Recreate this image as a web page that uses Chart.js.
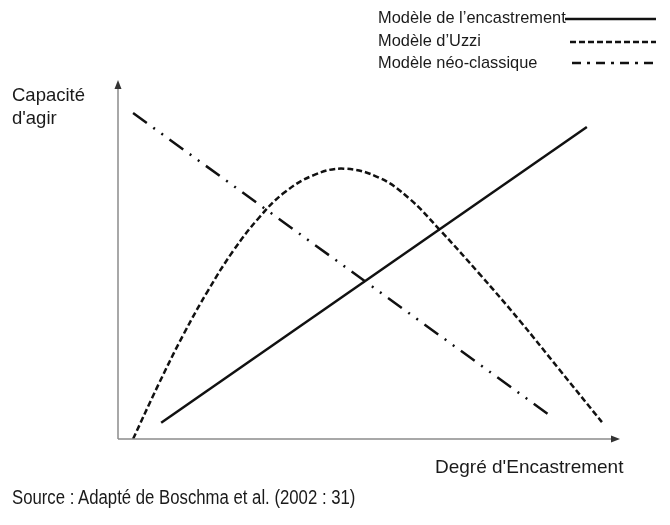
<!DOCTYPE html>
<html>
<head>
<meta charset="utf-8">
<script src="https://cdn.jsdelivr.net/npm/chart.js@4.4.0/dist/chart.umd.min.js"></script>
<style>
  body { margin: 0; background: #fff; }
  #wrap { position: relative; width: 670px; height: 525px; font-family: "Liberation Sans", Arial, sans-serif; color: #1a1a1a; }
  #chart { position: absolute; left: 0; top: 0; }
  .txt { position: absolute; white-space: nowrap; }
  .leg { font-size: 16.4px; line-height: 19px; left: 378px; }
  #source { left: 12px; top: 485px; font-size: 20px; line-height: 24px; transform: scaleX(0.837); transform-origin: left top; }
</style>
</head>
<body>
<div id="wrap">
  <canvas id="chart" width="670" height="525"></canvas>
  <div class="txt leg" style="top:8px">Modèle de l’encastrement</div>
  <div class="txt leg" style="top:31px">Modèle d’Uzzi</div>
  <div class="txt leg" style="top:53px">Modèle néo-classique</div>
  <div class="txt" style="left:12px; top:83px; font-size:18.5px; line-height:23px">Capacité<br>d'agir</div>
  <div class="txt" style="left:435px; top:456px; font-size:19px; line-height:22px">Degré d'Encastrement</div>
  <div class="txt" id="source">Source : Adapté de Boschma et al. (2002 : 31)</div>
</div>
<script>
// values (axis units 0-100, no scale shown)
let labels = ["Modèle de l’encastrement", "Modèle d’Uzzi", "Modèle néo-classique"];

let encastrementX = [8.6, 93.4];
let encastrementY = [4.5, 86.9];

let uzziX = [3, 8, 13, 18, 23, 28, 33, 39, 45, 52, 58, 64, 72, 80, 88, 96.4];
let uzziY = [0, 15, 29, 41.5, 52.5, 61.5, 68.5, 73.5, 75.3, 72.8, 67, 58.4, 46, 33, 19.2, 4.7];

let neoX = [3.0, 86.5];
let neoY = [90.8, 6.1];

function pts(xs, ys) {
    return xs.map((x, i) => ({ x: x, y: ys[i] }));
}

// axes with arrow heads + legend line samples
let axesPlugin = {
    id: "axes",
    afterDraw(chart) {
        let ctx = chart.ctx;
        let a = chart.chartArea;
        ctx.save();
        ctx.strokeStyle = "#8c8c8c";
        ctx.fillStyle = "#333";
        ctx.lineWidth = 1.5;
        ctx.setLineDash([]);
        ctx.beginPath();
        ctx.moveTo(a.left, a.bottom);
        ctx.lineTo(a.left, a.top + 6);
        ctx.moveTo(a.left, a.bottom);
        ctx.lineTo(a.right - 6, a.bottom);
        ctx.stroke();
        ctx.beginPath();
        ctx.moveTo(a.left, a.top);
        ctx.lineTo(a.left - 3.5, a.top + 9);
        ctx.lineTo(a.left + 3.5, a.top + 9);
        ctx.closePath();
        ctx.fill();
        ctx.beginPath();
        ctx.moveTo(a.right, a.bottom);
        ctx.lineTo(a.right - 9, a.bottom - 3.5);
        ctx.lineTo(a.right - 9, a.bottom + 3.5);
        ctx.closePath();
        ctx.fill();

        // legend samples
        let legend = [
            { x0: 565, y: 19, dash: [] },
            { x0: 570, y: 42, dash: [6, 3] },
            { x0: 572, y: 63, dash: [9, 6, 3, 6] }
        ];
        ctx.strokeStyle = "#111";
        ctx.lineWidth = 2.5;
        legend.forEach(l => {
            ctx.setLineDash(l.dash);
            ctx.beginPath();
            ctx.moveTo(l.x0, l.y);
            ctx.lineTo(656, l.y);
            ctx.stroke();
        });
        ctx.restore();
    }
};

let chart = new Chart(document.getElementById("chart"), {
    type: "line",
    data: {
        datasets: [{
            label: labels[0],
            data: pts(encastrementX, encastrementY),
            borderColor: "#111",
            borderWidth: 2.5,
            pointRadius: 0
        }, {
            label: labels[1],
            data: pts(uzziX, uzziY),
            borderColor: "#111",
            borderWidth: 2.5,
            borderDash: [6, 3],
            tension: 0.4,
            pointRadius: 0
        }, {
            label: labels[2],
            data: pts(neoX, neoY),
            borderColor: "#111",
            borderWidth: 2.5,
            borderDash: [17, 8, 2, 8, 2, 8],
            pointRadius: 0
        }]
    },
    options: {
        animation: false,
        responsive: false,
        layout: { padding: { left: 118, top: 80, right: 50, bottom: 86 } },
        plugins: {
            legend: { display: false },
            tooltip: { enabled: false }
        },
        scales: {
            x: { type: "linear", min: 0, max: 100, display: false },
            y: { type: "linear", min: 0, max: 100, display: false }
        }
    },
    plugins: [axesPlugin]
});
</script>
</body>
</html>
